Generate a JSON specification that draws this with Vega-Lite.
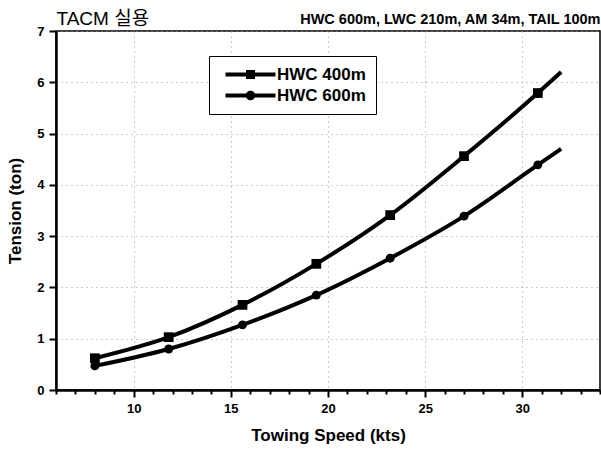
{
  "$schema": "https://vega.github.io/schema/vega-lite/v6.json",
  "width": 544,
  "height": 359,
  "autosize": "none",
  "padding": {"left": 56, "top": 31, "right": 1, "bottom": 60},
  "background": "white",
  "config": {
    "font": "Liberation Sans, Noto Sans CJK KR",
    "view": {"stroke": "black", "strokeWidth": 1.5},
    "axis": {
      "domainColor": "black",
      "domainWidth": 2.5,
      "tickColor": "black",
      "tickWidth": 2,
      "labelColor": "black",
      "titleColor": "black",
      "labelFont": "Liberation Sans",
      "titleFont": "Liberation Sans, Noto Sans CJK KR",
      "labelFontWeight": "bold",
      "labelFontSize": 13,
      "gridColor": "#999999",
      "gridDash": [1, 4],
      "gridWidth": 1
    }
  },
  "data": {
    "values": [
      {"series": "HWC 400m", "speed": 8.0, "tension": 0.62},
      {"series": "HWC 400m", "speed": 11.8, "tension": 1.03},
      {"series": "HWC 400m", "speed": 15.6, "tension": 1.66},
      {"series": "HWC 400m", "speed": 19.4, "tension": 2.46},
      {"series": "HWC 400m", "speed": 23.2, "tension": 3.41},
      {"series": "HWC 400m", "speed": 27.0, "tension": 4.56},
      {"series": "HWC 400m", "speed": 30.8, "tension": 5.79},
      {"series": "HWC 400m", "speed": 32.0, "tension": 6.20},
      {"series": "HWC 600m", "speed": 8.0, "tension": 0.47},
      {"series": "HWC 600m", "speed": 11.8, "tension": 0.80},
      {"series": "HWC 600m", "speed": 15.6, "tension": 1.27},
      {"series": "HWC 600m", "speed": 19.4, "tension": 1.85},
      {"series": "HWC 600m", "speed": 23.2, "tension": 2.57},
      {"series": "HWC 600m", "speed": 27.0, "tension": 3.39},
      {"series": "HWC 600m", "speed": 30.8, "tension": 4.39},
      {"series": "HWC 600m", "speed": 32.0, "tension": 4.70}
    ]
  },
  "layer": [
    {
      "transform": [{"filter": "datum.series === 'HWC 400m'"}],
      "mark": {"type": "line", "interpolate": "monotone", "color": "black", "strokeWidth": 4},
      "encoding": {
        "x": {
          "field": "speed", "type": "quantitative",
          "scale": {"domain": [6, 34], "nice": false, "zero": false},
          "axis": {
            "orient": "bottom", "values": [10, 15, 20, 25, 30], "grid": true,
            "tickSize": 7, "labelPadding": 5,
            "title": "Towing Speed (kts)", "titleFontSize": 17, "titleFontWeight": "bold", "titlePadding": 12
          }
        },
        "y": {
          "field": "tension", "type": "quantitative",
          "scale": {"domain": [0, 7], "nice": false},
          "axis": {
            "values": [0, 1, 2, 3, 4, 5, 6, 7], "grid": true, "tickSize": 7, "labelPadding": 5,
            "title": "Tension (ton)", "titleFontSize": 17, "titleFontWeight": "bold", "titlePadding": 12
          }
        }
      }
    },
    {
      "transform": [{"filter": "datum.series === 'HWC 600m'"}],
      "mark": {"type": "line", "interpolate": "monotone", "color": "black", "strokeWidth": 4},
      "encoding": {
        "x": {
          "field": "speed", "type": "quantitative",
          "scale": {"domain": [6, 34], "nice": false, "zero": false},
          "axis": {
            "orient": "top", "domain": false, "ticks": false, "labels": false, "grid": false,
            "title": "HWC 600m, LWC 210m, AM 34m, TAIL 100m", "titleAnchor": "end",
            "titleFontSize": 14.5, "titleFontWeight": "bold", "titleBaseline": "alphabetic", "titlePadding": 8
          }
        },
        "y": {"field": "tension", "type": "quantitative"}
      }
    },
    {
      "transform": [{"filter": "datum.series === 'HWC 400m' && datum.speed < 31.5"}],
      "mark": {"type": "point", "shape": "square", "filled": true, "color": "black", "opacity": 1, "size": 95},
      "encoding": {
        "x": {
          "field": "speed", "type": "quantitative",
          "scale": {"domain": [6, 34], "nice": false, "zero": false},
          "axis": {
            "orient": "bottom", "values": [6, 7, 8, 9, 11, 12, 13, 14, 16, 17, 18, 19, 21, 22, 23, 24, 26, 27, 28, 29, 31, 32, 33, 34],
            "domain": false, "labels": false, "grid": false, "tickSize": 4, "title": null
          }
        },
        "y": {"field": "tension", "type": "quantitative"}
      }
    },
    {
      "transform": [{"filter": "datum.series === 'HWC 600m' && datum.speed < 31.5"}],
      "mark": {"type": "point", "shape": "circle", "filled": true, "color": "black", "opacity": 1, "size": 80},
      "encoding": {
        "x": {
          "field": "speed", "type": "quantitative",
          "scale": {"domain": [6, 34], "nice": false, "zero": false},
          "axis": {
            "orient": "top", "domain": false, "ticks": false, "labels": false, "grid": false,
            "title": "TACM 실용", "titleAnchor": "start",
            "titleFontSize": 19, "titleFontWeight": "normal", "titleBaseline": "alphabetic", "titlePadding": 7
          }
        },
        "y": {"field": "tension", "type": "quantitative"}
      }
    },
    {
      "transform": [{"filter": "datum.speed < 9"}],
      "mark": {"type": "point", "filled": true, "color": "black", "size": 0},
      "encoding": {
        "x": {"field": "speed", "type": "quantitative", "scale": {"domain": [6, 34], "nice": false, "zero": false}, "axis": null},
        "y": {"field": "tension", "type": "quantitative"},
        "shape": {
          "field": "series", "type": "nominal",
          "scale": {
            "domain": ["HWC 400m", "HWC 600m"],
            "range": [
              "M-5,-0.4H5V0.4H-5Z M-0.9,-0.9H0.9V0.9H-0.9Z",
              "M-5,-0.4H5V0.4H-5Z M0.95,0A0.95,0.95,0,1,1,-0.95,0A0.95,0.95,0,1,1,0.95,0Z"
            ]
          },
          "legend": {
            "orient": "none", "legendX": 153, "legendY": 25, "title": null,
            "strokeColor": "black", "fillColor": "white", "padding": 10,
            "labelFont": "Liberation Sans", "labelFontSize": 17, "labelFontWeight": "bold", "labelColor": "black",
            "labelExpr": "datum.label + '\u00a0\u00a0\u00a0\u00a0'",
            "symbolSize": 100, "symbolOffset": 23, "labelOffset": 18, "rowPadding": 3,
            "symbolFillColor": "black", "symbolOpacity": 1
          }
        }
      }
    }
  ],
  "resolve": {"axis": {"x": "independent"}}
}
